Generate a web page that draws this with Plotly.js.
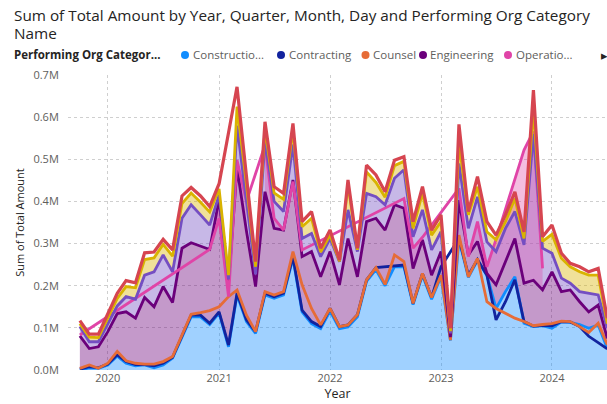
<!DOCTYPE html>
<html><head><meta charset="utf-8">
<script src="https://cdn.plot.ly/plotly-3.0.1.min.js"></script>
<style>html,body{margin:0;padding:0;background:#fff}#chart{width:607px;height:404px}</style>
</head><body><div id="chart"></div>
<script>
// Monthly points (Oct 2019 .. Jul 2024); values are stacked (cumulative) levels in millions
const months = ['2019-10-01','2019-11-01','2019-12-01',
 '2020-01-01','2020-02-01','2020-03-01','2020-04-01','2020-05-01','2020-06-01','2020-07-01','2020-08-01','2020-09-01','2020-10-01','2020-11-01','2020-12-01',
 '2021-01-01','2021-02-01','2021-03-01','2021-04-01','2021-05-01','2021-06-01','2021-07-01','2021-08-01','2021-09-01','2021-10-01','2021-11-01','2021-12-01',
 '2022-01-01','2022-02-01','2022-03-01','2022-04-01','2022-05-01','2022-06-01','2022-07-01','2022-08-01','2022-09-01','2022-10-01','2022-11-01','2022-12-01',
 '2023-01-01','2023-02-01','2023-03-01','2023-04-01','2023-05-01','2023-06-01','2023-07-01','2023-08-01','2023-09-01','2023-10-01','2023-11-01','2023-12-01',
 '2024-01-01','2024-02-01','2024-03-01','2024-04-01','2024-05-01','2024-06-01','2024-07-01'];

const construction = [0.000,0.005,0.004, 0.012,0.033,0.016,0.010,0.012,0.005,0.012,0.028,0.077,0.126,0.126,0.108,
 0.135,0.055,0.178,0.115,0.087,0.178,0.170,0.178,0.265,0.138,0.110,0.098,
 0.140,0.098,0.102,0.126,0.210,0.238,0.200,0.245,0.245,0.155,0.225,0.168,
 0.222,0.070,0.310,0.220,0.260,0.225,0.146,0.186,0.221,0.111,0.103,0.105,
 0.099,0.114,0.113,0.108,0.099,0.107,0.051];
const contracting = [0.002,0.008,0.005, 0.014,0.036,0.020,0.013,0.013,0.010,0.016,0.030,0.080,0.130,0.130,0.111,
 0.138,0.059,0.182,0.119,0.091,0.182,0.174,0.182,0.269,0.142,0.115,0.103,
 0.146,0.103,0.107,0.131,0.214,0.243,null,null,0.249,0.158,0.229,0.172,
 0.245,null,0.312,0.225,0.262,0.225,0.119,0.162,0.214,0.115,0.104,0.106,
 0.105,0.115,0.114,0.103,0.080,0.065,0.050];
const counsel = [0.004,0.012,0.004, 0.016,0.044,0.022,0.016,0.014,0.014,0.020,0.032,0.085,0.132,0.136,0.141,
 0.150,0.174,0.190,0.130,0.091,0.186,0.178,0.186,0.281,0.202,0.146,0.107,
 0.146,0.103,0.107,0.131,0.214,0.243,0.203,0.273,0.257,0.158,0.229,0.172,
 0.225,0.071,0.320,0.221,0.265,0.162,0.146,0.134,0.123,0.115,0.105,0.108,
 0.110,0.116,0.115,0.103,0.089,0.111,0.060];
const engineering = [0.081,0.051,0.055, 0.091,0.134,0.138,0.123,0.172,0.150,0.198,0.160,0.289,0.302,0.294,0.286,
 0.405,0.205,0.480,0.330,0.198,0.423,0.336,0.332,0.451,0.269,0.281,0.221,
 0.281,0.202,0.312,0.221,0.352,0.360,0.332,0.392,0.384,0.241,0.309,0.225,
 0.281,0.078,0.403,0.273,0.305,0.229,0.202,0.257,0.312,0.206,0.213,0.190,
 0.233,0.186,0.190,0.162,0.138,0.154,0.075];
const operations = [0.083,null,null, null,null,null,null,null,null,null,null,null,null,null,0.286,
 0.360,0.174,0.498,0.400,null,0.534,0.360,0.332,0.447,0.285,null,null,
 null,null,null,null,null,null,null,null,0.407,0.289,0.315,null,
 null,null,0.431,0.269,0.352,0.245,0.310,0.381,0.451,0.522,0.566,0.241,
 null,null,null,null,null,null,null];
const categorySix = [0.103,0.067,0.067, 0.110,0.152,0.174,0.168,0.225,0.233,0.273,0.233,0.360,0.392,0.368,0.344,
 0.415,0.215,0.580,0.400,0.227,0.543,0.400,0.376,0.535,0.312,0.324,0.269,
 0.312,0.257,0.380,0.281,0.419,0.411,0.392,0.455,0.475,0.316,0.380,0.285,
 0.328,0.087,0.490,0.336,0.411,0.304,0.281,0.336,0.376,0.297,0.560,0.289,
 0.277,0.218,0.206,0.186,0.182,0.178,0.099];
const categorySeven = [0.110,0.078,0.077, 0.125,0.170,0.198,0.195,0.262,0.266,0.298,0.270,0.395,0.420,0.398,0.375,
 0.430,0.225,0.625,0.440,0.245,0.573,0.420,0.405,0.570,0.340,0.360,0.280,
 0.320,0.258,0.440,0.285,0.470,0.445,0.410,0.485,0.495,0.336,0.420,0.320,
 0.352,0.092,0.540,0.368,0.435,0.328,0.309,0.352,0.407,0.312,0.620,0.305,
 0.322,0.265,0.245,0.233,0.225,0.225,0.110];
const categoryEight = [0.117,0.085,0.085, 0.134,0.182,0.212,0.207,0.278,0.280,0.310,0.285,0.413,0.433,0.413,0.388,
 0.442,null,0.672,0.460,0.257,0.589,0.435,0.419,0.585,0.352,0.376,0.289,
 0.332,0.261,0.451,0.289,0.486,0.463,0.423,0.498,0.506,0.352,0.435,0.332,
 0.368,0.099,0.583,0.376,0.459,0.352,0.320,0.368,0.423,0.328,0.664,0.316,
 0.344,0.277,0.253,0.245,0.233,0.241,0.123];

const yearTicks = ['2020-01-01','2021-01-01','2022-01-01','2023-01-01','2024-01-01'];
const yearLabels = ['2020','2021','2022','2023','2024'];
const legendNames = ['Constructio...','Contracting','Counsel','Engineering','Operatio...'];
const legendColors = ['#118DFF','#12239E','#E66C37','#6B007B','#E044A7'];
const titleLines = ['Sum of Total Amount by Year, Quarter, Month, Day and Performing Org Category','Name'];

const FONT = '"Open Sans", "Noto Sans", sans-serif';
const C = {lb:'#118DFF', db:'#12239E', or:'#E66C37', pu:'#6B007B', pk:'#E044A7', vi:'#744EC2', ye:'#D9B300', re:'#D64550'};

const traces = [];
// fills
traces.push({x:months, y:construction, type:'scatter', mode:'lines', line:{width:0}, fill:'tozeroy', fillcolor:'rgba(17,141,255,0.4)', hoverinfo:'skip'});
traces.push({x:months, y:engineering, type:'scatter', mode:'lines', line:{width:0}, fill:'tonexty', fillcolor:'rgba(107,0,123,0.4)', hoverinfo:'skip'});
traces.push({x:months, y:categorySix, type:'scatter', mode:'lines', line:{width:0}, fill:'tonexty', fillcolor:'rgba(116,78,194,0.4)', hoverinfo:'skip'});
traces.push({x:months, y:categorySeven, type:'scatter', mode:'lines', line:{width:0}, fill:'tonexty', fillcolor:'rgba(217,179,0,0.4)', hoverinfo:'skip'});
// pink band polygons for contiguous runs of Operations data
let run = [];
function flushRun(){
  if (run.length >= 2){
    const xs = run.map(i=>months[i]).concat(run.slice().reverse().map(i=>months[i]));
    const ys = run.map(i=>operations[i]).concat(run.slice().reverse().map(i=>engineering[i]));
    traces.push({x:xs, y:ys, type:'scatter', mode:'lines', line:{width:0}, fill:'toself', fillcolor:'rgba(224,68,167,0.35)', hoverinfo:'skip'});
  }
  run = [];
}
operations.forEach((v,i)=>{ if (v===null) flushRun(); else run.push(i); });
flushRun();
// lines
const lineSpec = [[construction,C.lb],[contracting,C.db],[counsel,C.or],[engineering,C.pu],[operations,C.pk],[categorySix,C.vi],[categorySeven,C.ye],[categoryEight,C.re]];
lineSpec.forEach(([arr,col],k)=>{
  traces.push({x:months, y:arr, type:'scatter', mode:'lines', connectgaps:true, line:{color:col, width:(k===7?3.2:2.8), shape:'linear'}, hoverinfo:'skip'});
});

const px = x => (x-68)/539;
const py = y => (370-y)/295;

const annotations = [
  {text:titleLines[0], x:px(12), y:py(15), xref:'paper', yref:'paper', xanchor:'left', yanchor:'middle', showarrow:false, font:{family:FONT, size:15.3, color:'#252423'}},
  {text:titleLines[1], x:px(12), y:py(33), xref:'paper', yref:'paper', xanchor:'left', yanchor:'middle', showarrow:false, font:{family:FONT, size:15.3, color:'#252423'}},
  {text:'<b>Performing Org Categor...</b>', x:px(12), y:py(55), xref:'paper', yref:'paper', xanchor:'left', yanchor:'middle', showarrow:false, font:{family:FONT, size:11.5, color:'#252423'}},
  {text:'▸', x:px(599), y:py(55), xref:'paper', yref:'paper', xanchor:'left', yanchor:'middle', showarrow:false, font:{family:FONT, size:13, color:'#252423'}}
];
const legendTextX = [191,287,371,428,514];
const legendDotX = [185,281,365.5,423,508];
const shapes = [];
legendNames.forEach((n,i)=>{
  annotations.push({text:n, x:px(legendTextX[i]), y:py(55), xref:'paper', yref:'paper', xanchor:'left', yanchor:'middle', showarrow:false, font:{family:FONT, size:11.5, color:'#605E5C'}});
  shapes.push({type:'circle', xref:'paper', yref:'paper', xsizemode:'pixel', ysizemode:'pixel', xanchor:px(legendDotX[i]), yanchor:py(55), x0:-4, x1:4, y0:-4, y1:4, fillcolor:legendColors[i], line:{width:0}});
});

const layout = {
  width:607, height:404,
  margin:{l:68, r:0, t:75, b:34},
  paper_bgcolor:'#fff', plot_bgcolor:'#fff',
  showlegend:false,
  xaxis:{type:'date', range:['2019-08-23','2024-06-30'], tickvals:yearTicks, ticktext:yearLabels, showgrid:true, gridcolor:'#cfcfcf', griddash:'dot', gridwidth:1, zeroline:false, showline:false, ticks:'', tickfont:{family:FONT, size:11, color:'#605E5C'}, title:{text:'Year', font:{family:FONT, size:12.5, color:'#252423'}, standoff:4}, automargin:false, fixedrange:true},
  yaxis:{range:[0,0.7], dtick:0.1, tickformat:'.1f', ticksuffix:'M', showgrid:true, gridcolor:'#cfcfcf', griddash:'dot', gridwidth:1, zeroline:false, showline:false, ticks:'outside', ticklen:6, tickcolor:'rgba(0,0,0,0)', tickfont:{family:FONT, size:11, color:'#605E5C'}, title:{text:'Sum of Total Amount', font:{family:FONT, size:11, color:'#252423'}, standoff:6}, automargin:false, fixedrange:true},
  annotations:annotations,
  shapes:shapes,
  hovermode:false
};
Plotly.newPlot('chart', traces, layout, {staticPlot:true, displayModeBar:false});
</script></body></html>
